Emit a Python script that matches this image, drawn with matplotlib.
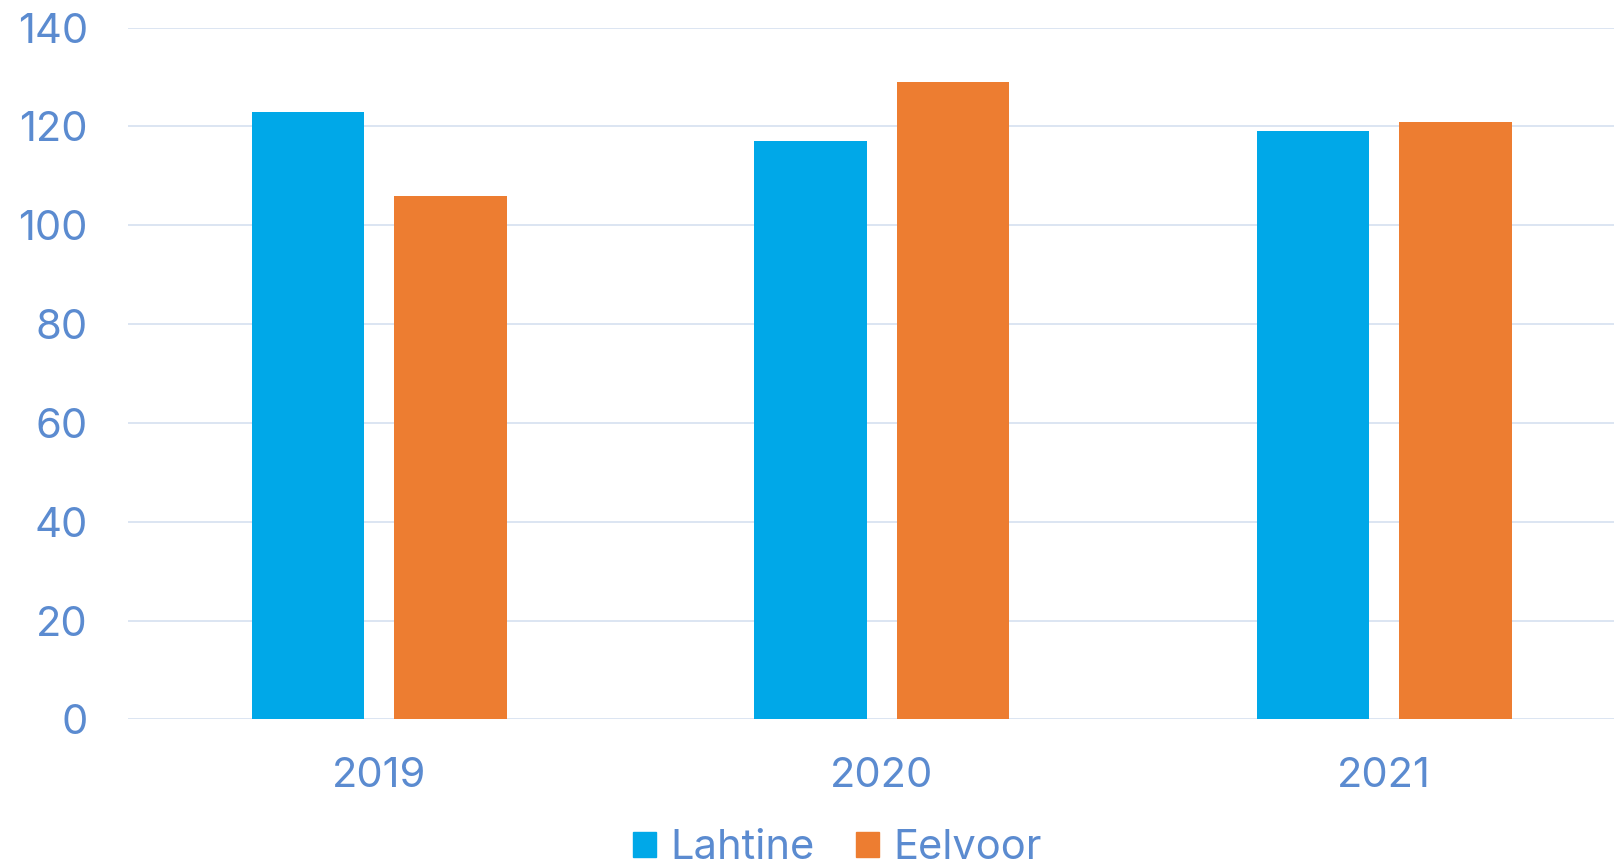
import matplotlib
matplotlib.use("Agg")
import matplotlib.pyplot as plt
from matplotlib.patches import Patch
import numpy as np

years = ["2019", "2020", "2021"]
series_names = ["Lahtine", "Eelvoor"]
lahtine = [123, 117, 119]
eelvoor = [106, 129, 121]
y_ticks = [0, 20, 40, 60, 80, 100, 120, 140]

BLUE = "#00A8E8"
ORANGE = "#ED7D31"
TEXT = "#5B8BD0"
GRID = "#D9E3F1"

plt.rcParams["font.family"] = ["Inter", "DejaVu Sans"]

fig = plt.figure(figsize=(16.14, 8.65), dpi=100)
ax = fig.add_axes([128 / 1614, 0.1684, 1507.5 / 1614, 0.7996])

x = np.arange(len(years))
width = 0.224
offset = 0.142
ax.bar(x - offset, lahtine, width, color=BLUE, zorder=3)
ax.bar(x + offset, eelvoor, width, color=ORANGE, zorder=3)

ax.set_xlim(-0.5, len(years) - 0.5)
ax.set_ylim(0, 140)
ax.set_yticks(y_ticks)
ax.set_xticks(x)
ax.set_xticklabels(years)

ax.yaxis.grid(True, color=GRID, linewidth=1.3, zorder=0)
ax.set_axisbelow(True)
for side in ax.spines.values():
    side.set_visible(False)
ax.tick_params(axis="both", length=0, colors=TEXT, labelsize=30)
ax.tick_params(axis="y", pad=29)
ax.tick_params(axis="x", pad=27)

handles = [Patch(color=BLUE), Patch(color=ORANGE)]
fig.legend(handles, series_names, loc="lower center", bbox_to_anchor=(0.519, -0.046),
           ncol=2, frameon=False, fontsize=30, labelcolor=TEXT,
           handlelength=0.55, handleheight=0.55, handletextpad=0.35,
           columnspacing=1.0)

fig.savefig("out.png", dpi=100)
